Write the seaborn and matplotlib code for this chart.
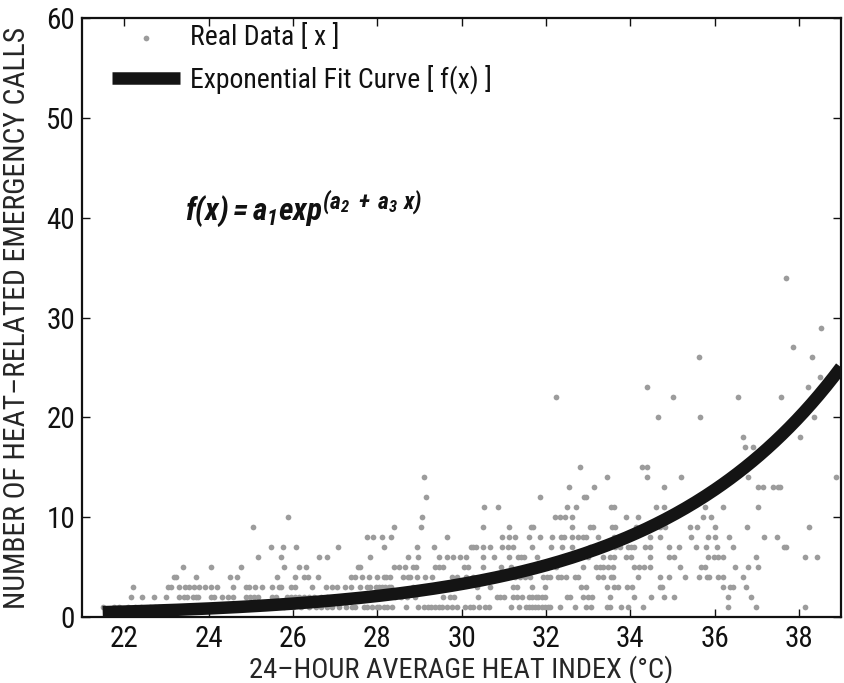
import numpy as np
import pandas as pd
import seaborn as sns
import matplotlib.pyplot as plt
from matplotlib import font_manager

# Heat index (x) of each day, grouped by the number of calls (y)
calls_1 = [21.49, 21.75, 21.87, 22.10, 22.25, 22.40, 22.60, 22.72, 22.83, 22.99, 23.11, 23.23,
           23.40, 23.55, 23.70, 23.85, 24.00, 24.20, 24.35, 24.50, 24.70, 24.90, 25.05, 25.20,
           25.40, 25.60, 25.80, 26.00, 26.20, 26.38, 26.54, 26.66, 26.81, 26.93, 27.09, 27.25,
           27.41, 27.48, 27.68, 27.76, 27.88, 27.99, 28.04, 28.16, 28.23, 28.35, 28.69, 28.97,
           29.10, 29.20, 29.28, 29.38, 29.46, 29.53, 29.65, 29.77, 29.89, 30.08, 30.20, 30.28,
           30.42, 30.56, 30.64, 31.17, 31.37, 31.53, 31.60, 31.66, 31.74, 31.82, 31.90, 31.98,
           32.04, 32.10, 32.33, 32.69, 32.96, 33.06, 33.46, 33.53, 33.77, 33.95, 34.30, 36.33,
           36.99, 38.15]
calls_2 = [22.15, 22.42, 22.70, 22.99, 23.31, 23.41, 23.50, 23.62, 23.70, 23.76, 24.06, 24.14,
           24.31, 24.45, 24.59, 24.88, 24.99, 25.08, 25.18, 25.50, 25.59, 25.87, 25.95, 26.05,
           26.15, 26.26, 26.38, 26.51, 26.66, 26.81, 26.97, 27.12, 27.30, 27.45, 27.62, 27.80,
           28.19, 28.43, 28.57, 28.71, 28.90, 29.57, 29.73, 29.83, 30.38, 30.83, 30.91, 31.01,
           31.23, 31.31, 31.43, 31.60, 31.68, 31.76, 31.82, 31.91, 31.98, 32.49, 32.58, 32.88,
           33.00, 33.10, 33.51, 34.09, 34.50, 34.81, 35.05, 36.33, 36.86]
calls_3 = [22.20, 23.03, 23.11, 23.29, 23.43, 23.53, 23.66, 23.78, 23.92, 24.06, 24.21, 24.59,
           24.88, 24.96, 25.10, 25.26, 25.51, 25.66, 25.71, 25.96, 26.05, 26.46, 26.79, 26.92,
           27.05, 27.23, 27.37, 27.60, 27.76, 27.84, 27.96, 28.04, 28.11, 28.19, 28.27, 28.33,
           28.86, 29.10, 29.40, 30.36, 30.68, 31.23, 31.31, 31.66, 31.99, 32.83, 32.96, 33.44,
           33.61, 33.71, 33.93, 34.05, 34.71, 34.76, 36.19, 36.37, 36.43, 36.75]
calls_4 = [23.19, 23.24, 23.70, 24.51, 24.67, 25.62, 26.05, 26.26, 26.36, 26.59, 27.37, 27.48,
           27.64, 27.80, 28.00, 28.16, 28.22, 28.31, 28.60, 28.73, 28.78, 28.94, 29.14, 29.30,
           29.77, 29.89, 30.10, 30.28, 31.27, 31.39, 31.50, 31.62, 31.94, 32.02, 32.10, 32.29,
           32.37, 32.47, 32.69, 32.77, 33.24, 33.36, 33.55, 33.59, 34.18, 34.70, 34.93, 35.29,
           35.64, 35.82, 35.88, 36.08, 36.19, 36.67]
calls_5 = [23.39, 24.07, 24.77, 25.80, 26.15, 26.32, 27.55, 27.60, 28.41, 28.52, 28.65, 28.86,
           28.93, 29.36, 29.46, 29.57, 30.05, 30.15, 30.50, 30.94, 31.17, 32.25, 32.87, 33.20,
           33.28, 33.36, 33.47, 33.59, 34.09, 34.20, 34.33, 34.46, 35.19, 35.68, 35.78, 36.49,
           36.79, 37.02]
calls_6 = [25.17, 25.72, 26.63, 26.81, 27.82, 28.73, 28.97, 29.46, 29.65, 29.79, 29.97, 30.10,
           30.52, 30.76, 31.13, 31.33, 31.41, 31.47, 31.80, 33.00, 33.36, 33.51, 33.62, 33.91,
           34.01, 34.46, 34.93, 35.05, 35.85, 35.98, 36.09, 36.19, 36.99, 38.14, 38.44]
calls_7 = [25.47, 25.77, 26.07, 27.06, 28.15, 28.95, 29.34, 30.23, 30.28, 30.34, 30.50, 30.68,
           30.95, 31.11, 31.23, 31.66, 32.13, 32.39, 32.61, 33.04, 33.63, 33.75, 33.95, 34.01,
           34.08, 34.36, 34.46, 34.93, 35.15, 35.55, 35.80, 36.06, 36.43, 37.64, 37.70]
calls_8 = [27.76, 27.89, 28.11, 28.33, 29.65, 30.95, 31.13, 31.27, 31.60, 31.86, 32.15, 32.35,
           32.44, 32.61, 32.77, 32.87, 32.96, 33.24, 33.62, 34.48, 34.71, 35.45, 35.85, 36.02,
           36.35, 37.18, 37.48]
calls_9 = [25.06, 28.39, 29.04, 30.52, 31.13, 31.65, 31.69, 32.61, 33.04, 33.12, 33.57, 33.63,
           34.13, 34.70, 34.83, 35.42, 35.59, 36.00, 36.77, 38.24]
calls_10 = [25.89, 29.06, 32.21, 32.33, 32.45, 32.61, 33.91, 34.18, 35.72, 35.92]
calls_11 = [30.53, 30.86, 32.51, 32.71, 33.55, 33.62, 34.62, 34.81, 35.78, 36.19, 37.02]
calls_12 = [29.16, 31.87, 32.91, 32.96]
calls_13 = [32.54, 33.13, 34.79, 37.02, 37.14, 37.39, 37.50, 37.55]
calls_14 = [29.12, 33.44, 34.41, 35.21, 36.80, 38.87]
calls_15 = [32.80, 34.27, 34.40]
calls_17 = [36.72, 36.91]
calls_18 = [36.67, 38.02]
calls_20 = [34.66, 35.66, 38.37]
calls_22 = [32.24, 35.01, 36.55, 37.57]
calls_23 = [34.41, 38.21]
calls_24 = [38.49]
calls_26 = [35.62, 38.30]
calls_27 = [37.86]
calls_29 = [38.52]
calls_34 = [37.69]

# fit parameters of f(x) = a1 * exp(a2 + a3 * x)
a1, a2, a3 = 0.8, -5.332, 0.225

levels = {1: calls_1, 2: calls_2, 3: calls_3, 4: calls_4, 5: calls_5, 6: calls_6,
          7: calls_7, 8: calls_8, 9: calls_9, 10: calls_10, 11: calls_11, 12: calls_12,
          13: calls_13, 14: calls_14, 15: calls_15, 17: calls_17, 18: calls_18,
          20: calls_20, 22: calls_22, 23: calls_23, 24: calls_24, 26: calls_26,
          27: calls_27, 29: calls_29, 34: calls_34}
df = pd.DataFrame([(x, n) for n, xs in levels.items() for x in xs], columns=['heat', 'calls'])

x_fit = np.linspace(df['heat'].min(), 39, 300)
fit = pd.DataFrame({'heat': x_fit, 'calls': a1 * np.exp(a2 + a3 * x_fit)})

sns.set_style('ticks')

# look for a narrow sans font (the original text is Helvetica-like and condensed)
entries = font_manager.fontManager.ttflist
family, stretch = 'Liberation Sans', 'normal'
narrow_names = ['Liberation Sans Narrow', 'Roboto Condensed', 'Open Sans Condensed',
                'Noto Sans Condensed', 'DejaVu Sans Condensed', 'Noto Sans SemiCondensed']
found = False
for nm in narrow_names:
    if any(e.name == nm for e in entries):
        family, found = nm, True
        break
if not found:
    for nm in ['Noto Sans', 'DejaVu Sans', 'Open Sans', 'Roboto', 'Inter']:
        hit = [e for e in entries if e.name == nm and e.stretch in ('condensed', 'semi-condensed')
               and e.style == 'normal']
        if hit:
            family, stretch = nm, hit[0].stretch
            break

plt.rcParams['font.family'] = [family, 'DejaVu Sans']
plt.rcParams['font.stretch'] = stretch
has_bi = any(e.name == family and e.style == 'italic' and e.weight in (700, 'bold')
             for e in entries)
math_font = (family if has_bi else 'Liberation Sans') + ':italic:bold'
if has_bi and stretch != 'normal':
    math_font += ':stretch=' + stretch
plt.rcParams['mathtext.fontset'] = 'custom'
plt.rcParams['mathtext.rm'] = math_font
plt.rcParams['mathtext.it'] = math_font
plt.rcParams['mathtext.bf'] = math_font
narrow = family != 'Liberation Sans'
fs = 21 if narrow else 18

fig = plt.figure(figsize=(8.44, 6.83), dpi=100)
ax = fig.add_axes([0.0972, 0.0966, 0.8993, 0.877])

sns.scatterplot(data=df, x='heat', y='calls', ax=ax, color='#9c9c9c', s=17,
                linewidth=0, label='Real Data [ x ]', zorder=2)
sns.lineplot(data=fit, x='heat', y='calls', ax=ax, color='#141414', linewidth=9,
             solid_capstyle='butt', label='Exponential Fit Curve [ f(x) ]', zorder=3)

ax.set_xlim(21, 39)
ax.set_ylim(0, 60)
ax.set_xticks(range(22, 39, 2))
ax.set_yticks(range(0, 61, 10))
ax.tick_params(direction='in', length=6, width=1, top=True, right=True,
               labelsize=fs, colors='#111111')
ax.tick_params(axis='x', pad=6)
ax.tick_params(axis='y', pad=5)
for sp in ax.spines.values():
    sp.set_linewidth(1.6)
    sp.set_color('#111111')

ax.set_xlabel('24\u2013HOUR AVERAGE HEAT INDEX (\u00b0C)', fontsize=fs - 0.5, labelpad=1)
ax.set_ylabel('NUMBER OF HEAT\u2013RELATED EMERGENCY CALLS', fontsize=fs + 0.3, labelpad=11)

# formula: main part, then the exponent placed just after it
main_txt = ax.text(23.45, 39.8, r'$f(x) = a_1exp$', fontsize=fs + 1.5,
                   va='baseline', ha='left', color='#111111')
fig.canvas.draw()
bb = main_txt.get_window_extent()
x0, y0 = ax.transData.transform((23.45, 39.8))
ax.annotate(r'$(a_2\ +\ a_3\ x)$', xy=(bb.x1 - 1, y0 + 11), xycoords='figure pixels',
            fontsize=fs - 4, va='baseline', ha='left', color='#111111')

leg = ax.legend(loc='upper left', bbox_to_anchor=(0.039, 0.99), frameon=False,
                fontsize=fs - 1, handlelength=2.45, handletextpad=0.36, labelspacing=0.5,
                borderaxespad=0, borderpad=0)
for t in leg.get_texts():
    t.set_color('#111111')
for h in leg.legend_handles:
    if hasattr(h, 'set_solid_capstyle'):
        h.set_solid_capstyle('butt')

fig.savefig('out.png', dpi=100)
